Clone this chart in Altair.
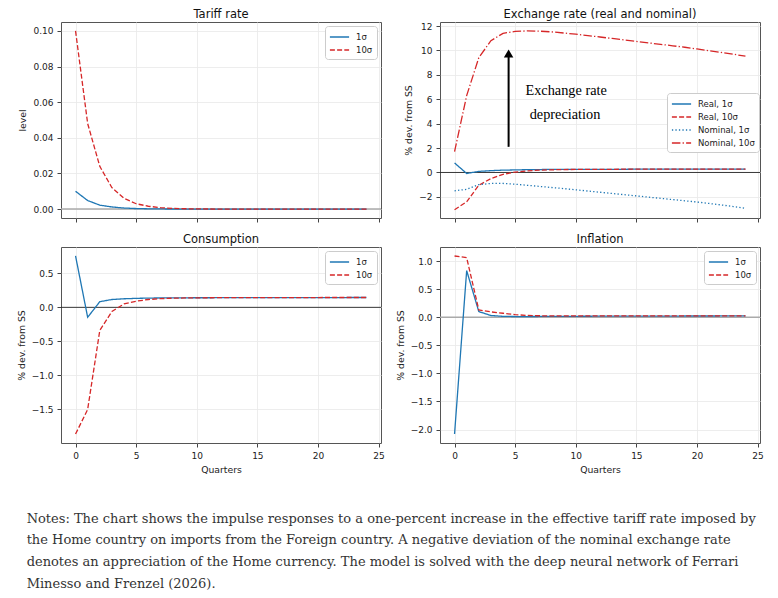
import altair as alt
import pandas as pd

quarters = list(range(25))

tariff_1 = [0.01, 0.0048, 0.0022, 0.0012, 0.0006, 0.0003, 0.00016, 0.00008, 0.00004, 0.00002,
            0.00001, 0, 0, 0, 0, 0, 0, 0, 0, 0, 0, 0, 0, 0, 0]
tariff_10 = [0.1, 0.048, 0.024, 0.012, 0.006, 0.003, 0.0016, 0.0008, 0.0004, 0.0002,
             0.0001, 0.00005, 0, 0, 0, 0, 0, 0, 0, 0, 0, 0, 0, 0, 0]

real_1 = [0.78, -0.08, 0.09, 0.15, 0.19, 0.21, 0.23, 0.24, 0.25, 0.25, 0.26, 0.26, 0.26,
          0.26, 0.26, 0.27, 0.27, 0.27, 0.27, 0.27, 0.27, 0.27, 0.27, 0.27, 0.27]
real_10 = [-3.05, -2.4, -1.05, -0.5, -0.15, 0.03, 0.13, 0.19, 0.22, 0.24, 0.25, 0.26, 0.26,
           0.26, 0.27, 0.27, 0.27, 0.27, 0.27, 0.27, 0.27, 0.27, 0.27, 0.27, 0.27]
nominal_1 = [-1.5, -1.38, -1.0, -0.9, -0.9, -0.96, -1.05, -1.14, -1.23, -1.32, -1.42, -1.52,
             -1.62, -1.72, -1.82, -1.92, -2.02, -2.12, -2.22, -2.32, -2.42, -2.54, -2.66,
             -2.79, -2.93]
nominal_10 = [1.7, 6.3, 9.4, 10.8, 11.4, 11.56, 11.6, 11.58, 11.52, 11.43, 11.33, 11.22, 11.1,
              10.98, 10.86, 10.74, 10.62, 10.5, 10.38, 10.26, 10.12, 9.98, 9.84, 9.69, 9.53]

cons_1 = [0.756, -0.146, 0.083, 0.115, 0.126, 0.132, 0.136, 0.138, 0.14, 0.14, 0.141, 0.141,
          0.142, 0.142, 0.142, 0.143, 0.143, 0.143, 0.143, 0.144, 0.144, 0.144, 0.144, 0.145,
          0.145]
cons_10 = [-1.863, -1.5, -0.34, -0.06, 0.05, 0.09, 0.115, 0.128, 0.134, 0.138, 0.14, 0.141,
           0.142, 0.142, 0.143, 0.143, 0.143, 0.144, 0.144, 0.144, 0.144, 0.145, 0.145, 0.145,
           0.145]

infl_1 = [-2.08, 0.83, 0.1, 0.03, 0.015, 0.012, 0.012, 0.013, 0.014, 0.015, 0.016, 0.017,
          0.018, 0.018, 0.019, 0.019, 0.02, 0.02, 0.02, 0.021, 0.021, 0.021, 0.022, 0.022,
          0.022]
infl_10 = [1.09, 1.06, 0.13, 0.095, 0.07, 0.045, 0.032, 0.026, 0.023, 0.022, 0.022, 0.022,
           0.022, 0.022, 0.023, 0.023, 0.023, 0.023, 0.024, 0.024, 0.024, 0.024, 0.025, 0.025,
           0.025]

shock_labels = ["1σ", "10σ"]
fx_labels = ["Real, 1σ", "Real, 10σ", "Nominal, 1σ", "Nominal, 10σ"]
x_ticks = [0, 5, 10, 15, 20, 25]

arrow_x = [4.46]
arrow_y0 = [2.1]
arrow_y1 = [9.75]
annot_lines = ["Exchange rate", "depreciation"]
annot_x = [5.85, 6.2]
annot_y = [6.7, 4.7]

notes_lines = [
    "Notes: The chart shows the impulse responses to a one-percent increase in the effective tariff rate imposed by",
    "the Home country on imports from the Foreign country. A negative deviation of the nominal exchange rate",
    "denotes an appreciation of the Home currency. The model is solved with the deep neural network of Ferrari",
    "Minesso and Frenzel (2026).",
]

BLUE = "#1f77b4"
RED = "#d62728"
W, H = 320, 196
XDOM = [-1.2, 25.2]


def long_df(series, labels):
    rows = []
    for lab, vals in zip(labels, series):
        for q, v in zip(quarters, vals):
            rows.append({"q": q, "v": v, "s": lab})
    return pd.DataFrame(rows)


def panel(title, series, labels, colors, dashes, ydom, yticks, yfmt, ytitle,
          bottom, zero_color, zero_width, legend, extra=None):
    df = long_df(series, labels)
    xaxis = alt.Axis(values=x_ticks, format="d", grid=True, labelOverlap=False, tickCount=20,
                     labels=bottom, title="Quarters" if bottom else None)
    yaxis = alt.Axis(values=yticks, format=yfmt, title=ytitle, grid=True,
                     labelOverlap=False, tickCount=20)
    yscale = alt.Scale(domain=ydom, nice=False, zero=False)
    x = alt.X("q:Q", scale=alt.Scale(domain=XDOM, nice=False, zero=False), axis=xaxis)
    y = alt.Y("v:Q", scale=yscale, axis=yaxis)
    zero = alt.Chart(pd.DataFrame({"z": [0]})).mark_rule(
        color=zero_color, strokeWidth=zero_width).encode(
        y=alt.Y("z:Q", scale=yscale, axis=yaxis))
    lines = alt.Chart(df).mark_line(strokeWidth=1.3, clip=True).encode(
        x=x, y=y,
        color=alt.Color("s:N", scale=alt.Scale(domain=labels, range=colors), legend=legend),
        strokeDash=alt.StrokeDash("s:N", scale=alt.Scale(domain=labels, range=dashes),
                                  legend=legend),
        detail="s:N",
    )
    layers = [zero, lines]
    if extra:
        layers += extra
    return alt.layer(*layers).properties(
        width=W, height=H,
        title=alt.TitleParams(title, fontSize=11.5, fontWeight="normal", font="DejaVu Sans",
                              baseline="bottom", offset=-12, dy=-3, color="#111"),
    )


leg2 = alt.Legend(title=None, orient="top-right", offset=4)
leg4 = alt.Legend(title=None, orient="none", legendX=227, legendY=71)

dash2 = [[1, 0], [5, 2.2]]

p_tariff = panel("Tariff rate", [tariff_1, tariff_10], shock_labels, [BLUE, RED], dash2,
                 [-0.005, 0.105], [0, 0.02, 0.04, 0.06, 0.08, 0.1], ".2f", "level",
                 False, "#aaaaaa", 1.5, leg2)

arrow_df = pd.DataFrame({"x": arrow_x, "y0": arrow_y0, "y1": arrow_y1})
annot_df = pd.DataFrame({"x": annot_x, "y": annot_y, "t": annot_lines})
arrow_rule = alt.Chart(arrow_df).mark_rule(color="black", strokeWidth=2).encode(
    x="x:Q", y="y0:Q", y2="y1:Q")
arrow_head = alt.Chart(arrow_df).mark_point(shape="triangle-up", filled=True, size=90,
                                            color="black", opacity=1).encode(x="x:Q", y="y1:Q")
annot = alt.Chart(annot_df).mark_text(align="left", baseline="middle", font="Liberation Serif",
                                      fontSize=14.3, color="black").encode(
    x="x:Q", y="y:Q", text="t:N")

p_fx = panel("Exchange rate (real and nominal)", [real_1, real_10, nominal_1, nominal_10],
             fx_labels, [BLUE, RED, BLUE, RED],
             [[1, 0], [5, 2.2], [1.3, 2.2], [8.5, 2.2, 1.3, 2.2]],
             [-3.73, 12.33], [-2, 0, 2, 4, 6, 8, 10, 12], "d", "% dev. from SS",
             False, "#222222", 0.9, leg4, extra=[arrow_rule, arrow_head, annot])

p_cons = panel("Consumption", [cons_1, cons_10], shock_labels, [BLUE, RED], dash2,
               [-1.994, 0.887], [-1.5, -1.0, -0.5, 0.0, 0.5], ".1f", "% dev. from SS",
               True, "#222222", 0.9, leg2)

p_infl = panel("Inflation", [infl_1, infl_10], shock_labels, [BLUE, RED], dash2,
               [-2.24, 1.25], [-2.0, -1.5, -1.0, -0.5, 0.0, 0.5, 1.0], ".1f", "% dev. from SS",
               True, "#aaaaaa", 1.5, leg2)

grid = alt.concat(p_tariff, p_fx, p_cons, p_infl, columns=2,
                  spacing={"row": 10, "column": 10}).resolve_scale(
    color="independent", strokeDash="independent")

chart = grid.properties(
    title=alt.TitleParams(notes_lines, orient="bottom", anchor="start", font="DejaVu Serif",
                          fontSize=13.0, fontWeight="normal", lineHeight=21.7, offset=38,
                          dx=10, color="#333333", baseline="top"),
    padding={"left": 8, "top": 0, "right": 5, "bottom": 2},
).configure_view(stroke="#555555", strokeWidth=1).configure_axis(
    labelFont="DejaVu Sans", titleFont="DejaVu Sans", labelFontSize=9, titleFontSize=9.3,
    titleFontWeight="normal", labelColor="#222222", titleColor="#222222",
    tickColor="#444444", tickSize=4, labelPadding=4, titlePadding=5,
    gridColor="#e8e8e8", gridWidth=0.8, domain=False,
).configure_legend(
    labelFont="DejaVu Sans", labelFontSize=8.5, labelColor="#222222",
    symbolType="M-1.6,0H1.6", symbolSize=144, symbolStrokeWidth=1.5, symbolOffset=3.5,
    fillColor="white", strokeColor="#cccccc",
    cornerRadius=3, padding=4, rowPadding=1, labelOffset=9.5,
)

chart.save("out.html", embed_options={"renderer": "svg", "actions": False})
